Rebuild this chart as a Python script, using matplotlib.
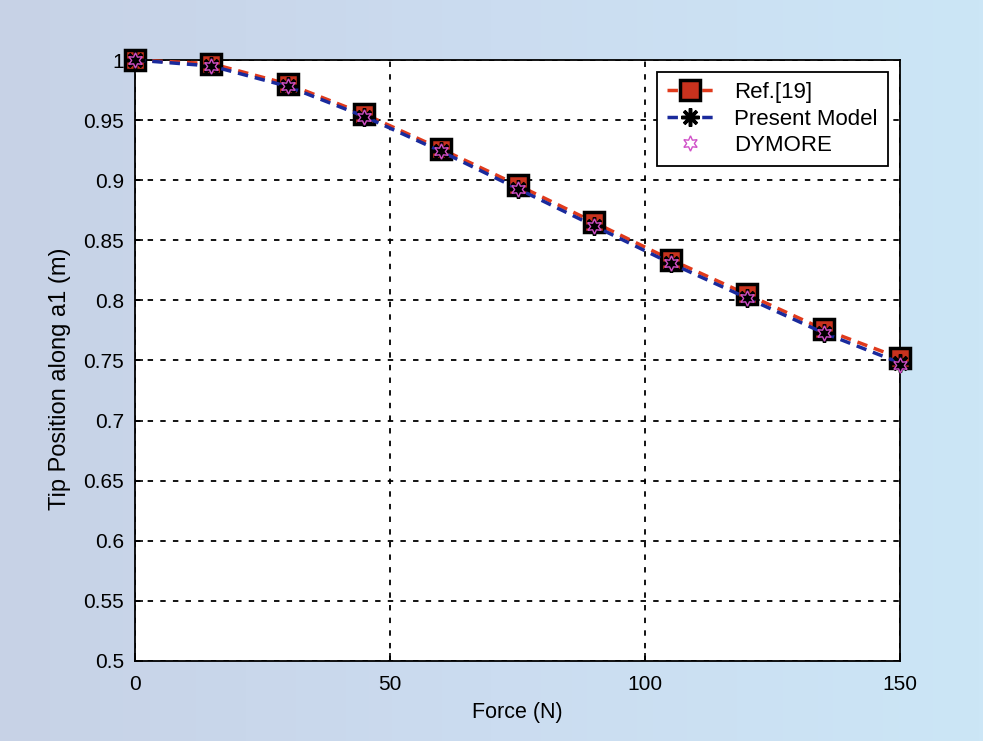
import numpy as np
import matplotlib.pyplot as plt
from matplotlib.colors import LinearSegmentedColormap

plt.rcParams['font.family'] = ['Liberation Sans', 'DejaVu Sans']

# data
force = [0, 15, 30, 45, 60, 75, 90, 105, 120, 135, 150]
ref19 = [1.000, 0.997, 0.980, 0.955, 0.926, 0.896, 0.865, 0.834, 0.805, 0.776, 0.752]
present = [1.000, 0.995, 0.978, 0.953, 0.924, 0.893, 0.862, 0.831, 0.802, 0.773, 0.748]
dymore = [1.000, 0.995, 0.978, 0.953, 0.924, 0.893, 0.862, 0.831, 0.802, 0.773, 0.746]

xticks = [0, 50, 100, 150]
yticks = [0.5, 0.55, 0.6, 0.65, 0.7, 0.75, 0.8, 0.85, 0.9, 0.95, 1]
yticklabels = ['0.5', '0.55', '0.6', '0.65', '0.7', '0.75', '0.8', '0.85', '0.9', '0.95', '1']

fig = plt.figure(figsize=(9.83, 7.41), dpi=100)
fig.patch.set_facecolor('#cbd7e9')

# soft blue background gradient like the scanned page
bg = fig.add_axes([0, 0, 1, 1], zorder=-10)
grad = np.linspace(0, 1, 256).reshape(1, -1)
cm = LinearSegmentedColormap.from_list('bg', ['#c7d2e6', '#cbdcf0', '#cce6f6'])
bg.imshow(grad, aspect='auto', cmap=cm, extent=[0, 1, 0, 1])
bg.axis('off')

ax = fig.add_axes([0.1373, 0.108, 0.7783, 0.811])
ax.set_facecolor('white')

ax.plot(force, ref19, color='#e03a1c', lw=2.5, dashes=(3, 2), marker='s', ms=14,
        mfc='#c8321e', mec='black', mew=2.5, label='Ref.[19]', zorder=3, clip_on=False)
ax.plot(force, present, color='#1a2a9c', lw=2.5, dashes=(3, 2), marker=(8, 2, 0), ms=13,
        mec='black', mew=2.5, label='Present Model', zorder=4, clip_on=False)
ax.plot(force, dymore, 'none', marker=(6, 1, 0), ms=11, mfc='none',
        mec='#d050c8', mew=1, label='DYMORE', zorder=5, clip_on=False)

ax.set_xlim(0, 150)
ax.set_ylim(0.5, 1)
ax.set_xticks(xticks)
ax.set_yticks(yticks)
ax.set_yticklabels(yticklabels)
ax.tick_params(labelsize=15, direction='in', length=6, width=1.2)
ax.tick_params(axis='x', pad=10)
ax.tick_params(axis='y', pad=8)
ax.grid(True, color='black', linestyle=(0, (3, 4)), linewidth=1.3)
for s in ax.spines.values():
    s.set_linewidth(1.3)

ax.set_xlabel('Force (N)', fontsize=15.5)
ax.set_ylabel('Tip Position along a1 (m)', fontsize=17)
ax.xaxis.set_label_coords(0.5, -0.085)
ax.xaxis.label.set_va('center')
ax.yaxis.set_label_coords(-0.098, 0.47)
ax.yaxis.label.set_va('center')

leg = ax.legend(loc='upper right', fontsize=16, fancybox=False, framealpha=1,
                edgecolor='black', borderpad=0.45, handlelength=2.1, handletextpad=0.95,
                labelspacing=0.25, borderaxespad=0, bbox_to_anchor=(0.984, 0.98))
leg.get_frame().set_linewidth(1.3)

fig.savefig('out.png', dpi=100, facecolor=fig.get_facecolor())
